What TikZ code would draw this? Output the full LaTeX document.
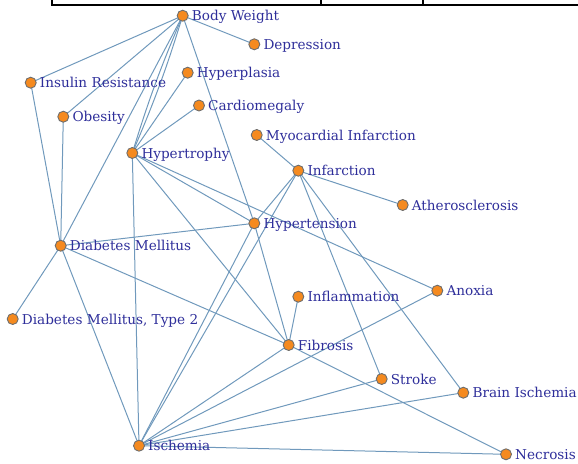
\documentclass[tikz,border=0pt]{standalone}
\usepackage{fontspec}
\setmainfont{DejaVu Serif}
\usetikzlibrary{backgrounds}
\definecolor{nodeorange}{HTML}{F58A1F}
\definecolor{nodegray}{HTML}{6E6E6E}
\definecolor{edgeblue}{HTML}{7099BC}
\definecolor{labelblue}{HTML}{2E2E9A}
\begin{document}
\begin{tikzpicture}[x=1pt,y=-1pt,
  vtx/.style={circle, fill=nodeorange, draw=nodegray, line width=0.9pt, inner sep=0pt, minimum size=11pt},
  lbl/.style={anchor=base west, text=labelblue, inner sep=0pt, font=\fontsize{13.6}{15}\selectfont},
  edge/.style={draw=edgeblue, line width=1pt},
  frame/.style={draw=black, line width=1.2pt}]
\useasboundingbox (0,0) rectangle (578,463);
% cropped table fragment at the top
\coordinate (t0) at (52,0);
\coordinate (t1) at (52,5);
\coordinate (t2) at (578,5);
\coordinate (t3) at (321,0);
\coordinate (t4) at (321,5);
\coordinate (t5) at (423,0);
\coordinate (t6) at (423,5);
\draw[frame] (t0) -- (t1) -- (t2);
\draw[frame] (t3) -- (t4);
\draw[frame] (t5) -- (t6);
% vertices
\node[vtx] (bw)  at (182.7,15.7) {};
\node[vtx] (dep) at (254.3,44.3) {};
\node[vtx] (ir)  at (30.7,82.7) {};
\node[vtx] (hpl) at (187.7,72.7) {};
\node[vtx] (ob)  at (63.3,116.7) {};
\node[vtx] (car) at (199,105.5) {};
\node[vtx] (mi)  at (256.7,135) {};
\node[vtx] (hyt) at (132.3,153) {};
\node[vtx] (inf) at (298.3,170.7) {};
\node[vtx] (ath) at (402.7,205) {};
\node[vtx] (hyp) at (254.3,223.3) {};
\node[vtx] (dm)  at (60.7,245.7) {};
\node[vtx] (ifl) at (298.3,296.7) {};
\node[vtx] (anx) at (437.3,290.7) {};
\node[vtx] (dm2) at (12.7,319) {};
\node[vtx] (fib) at (288.7,345) {};
\node[vtx] (str) at (381.7,379) {};
\node[vtx] (bri) at (463.3,392.7) {};
\node[vtx] (isc) at (139,445.7) {};
\node[vtx] (nec) at (506,454.3) {};
% labels
\tikzset{lblat/.style={xshift=9pt,yshift=-5pt}}
\node[lbl] (bwL)  at ([lblat]bw.center)  {Body Weight};
\node[lbl] (depL) at ([lblat]dep.center) {Depression};
\node[lbl] (irL)  at ([lblat]ir.center)  {Insulin Resistance};
\node[lbl] (hplL) at ([lblat]hpl.center) {Hyperplasia};
\node[lbl] (obL)  at ([lblat]ob.center)  {Obesity};
\node[lbl] (carL) at ([lblat]car.center) {Cardiomegaly};
\node[lbl] (miL)  at ([lblat]mi.center)  {Myocardial Infarction};
\node[lbl] (hytL) at ([lblat]hyt.center) {Hypertrophy};
\node[lbl] (infL) at ([lblat]inf.center) {Infarction};
\node[lbl] (athL) at ([lblat]ath.center) {Atherosclerosis};
\node[lbl] (hypL) at ([lblat]hyp.center) {Hypertension};
\node[lbl] (dmL)  at ([lblat]dm.center)  {Diabetes Mellitus};
\node[lbl] (iflL) at ([lblat]ifl.center) {Inflammation};
\node[lbl] (anxL) at ([lblat]anx.center) {Anoxia};
\node[lbl] (dm2L) at ([lblat]dm2.center) {Diabetes Mellitus, Type 2};
\node[lbl] (fibL) at ([lblat]fib.center) {Fibrosis};
\node[lbl] (strL) at ([lblat]str.center) {Stroke};
\node[lbl] (briL) at ([lblat]bri.center) {Brain Ischemia};
\node[lbl] (iscL) at ([lblat]isc.center) {Ischemia};
\node[lbl] (necL) at ([lblat]nec.center) {Necrosis};
% edges
\begin{scope}[on background layer]
\draw[edge] (bw.center) -- (ir.center);
\draw[edge] (bw.center) -- (ob.center);
\draw[edge] (bw.center) -- (dm.center);
\draw[edge] (bw.center) to[bend left=3] (hyt.center);
\draw[edge] (bw.center) to[bend right=3] (hyt.center);
\draw[edge] (bw.center) -- (dep.center);
\draw[edge] (bw.center) -- (hyp.center);
\draw[edge] (hpl.center) -- (hyt.center);
\draw[edge] (car.center) -- (hyt.center);
\draw[edge] (mi.center) -- (inf.center);
\draw[edge] (inf.center) -- (ath.center);
\draw[edge] (inf.center) -- (hyp.center);
\draw[edge] (inf.center) -- (isc.center);
\draw[edge] (inf.center) -- (str.center);
\draw[edge] (inf.center) -- (bri.center);
\draw[edge] (hyt.center) -- (hyp.center);
\draw[edge] (hyt.center) -- (anx.center);
\draw[edge] (hyt.center) -- (fib.center);
\draw[edge] (hyt.center) -- (isc.center);
\draw[edge] (ir.center) -- (dm.center);
\draw[edge] (ob.center) -- (dm.center);
\draw[edge] (dm.center) -- (dm2.center);
\draw[edge] (dm.center) -- (hyp.center);
\draw[edge] (dm.center) -- (fib.center);
\draw[edge] (dm.center) -- (isc.center);
\draw[edge] (hyp.center) -- (fib.center);
\draw[edge] (hyp.center) -- (isc.center);
\draw[edge] (ifl.center) -- (fib.center);
\draw[edge] (fib.center) -- (isc.center);
\draw[edge] (fib.center) -- (nec.center);
\draw[edge] (anx.center) -- (isc.center);
\draw[edge] (str.center) -- (isc.center);
\draw[edge] (bri.center) -- (isc.center);
\draw[edge] (isc.center) -- (nec.center);
\end{scope}
\end{tikzpicture}
\end{document}
